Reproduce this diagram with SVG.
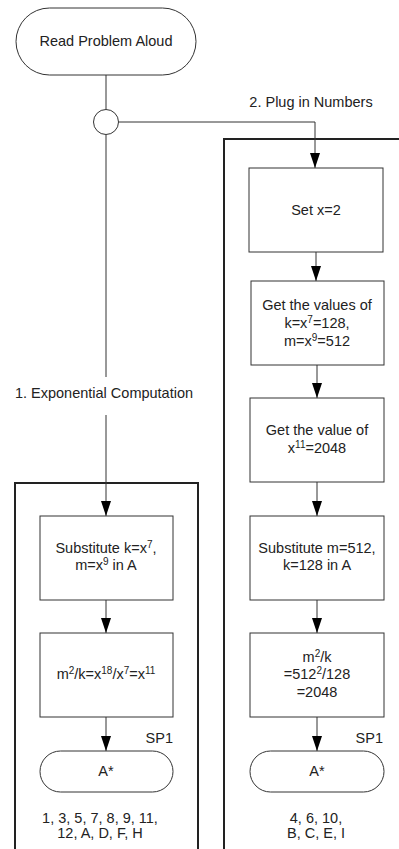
<svg xmlns="http://www.w3.org/2000/svg" width="399" height="849" viewBox="0 0 399 849">
<defs>
<marker id="arr" markerWidth="15" markerHeight="10" refX="15" refY="5" orient="auto" markerUnits="userSpaceOnUse" viewBox="0 0 15 10">
<path d="M0,0 L15,5 L0,10 Z" fill="#000"/>
</marker>
<style>
text{font-family:"Liberation Sans",Arial,sans-serif;font-size:14.5px;fill:#222;text-anchor:middle}
.box{fill:#fff;stroke:#333;stroke-width:1}
.cont{fill:none;stroke:#222;stroke-width:2}
.ln{fill:none;stroke:#333;stroke-width:1}
.sup{font-size:10px}
.r{text-anchor:end}
</style>
</defs>
<rect width="399" height="849" fill="#fff"/>
<g id="containers">
<path class="cont" d="M224,849 V139 H399"/>
<path class="cont" d="M15,849 V483 H198 V849"/>
</g>
<g id="connectors">
<line class="ln" x1="106" y1="75" x2="106" y2="109"/>
<path class="ln" d="M118.5,122 H315 V168" marker-end="url(#arr)"/>
<line class="ln" x1="106" y1="135" x2="106" y2="377"/>
<line class="ln" x1="106" y1="415" x2="106" y2="516" marker-end="url(#arr)"/>
<line class="ln" x1="316" y1="252" x2="316" y2="281" marker-end="url(#arr)"/>
<line class="ln" x1="317" y1="365" x2="317" y2="398" marker-end="url(#arr)"/>
<line class="ln" x1="317" y1="482" x2="317" y2="516" marker-end="url(#arr)"/>
<line class="ln" x1="106" y1="600" x2="106" y2="633" marker-end="url(#arr)"/>
<line class="ln" x1="317" y1="600" x2="317" y2="633" marker-end="url(#arr)"/>
<line class="ln" x1="106" y1="717" x2="106" y2="751" marker-end="url(#arr)"/>
<line class="ln" x1="317" y1="717" x2="317" y2="751" marker-end="url(#arr)"/>
</g>
<g id="labels">
<text x="311" y="107">2. Plug in Numbers</text>
<text x="104" y="398">1. Exponential Computation</text>
</g>
<g id="start">
<rect class="box" x="16" y="8" width="180" height="67" rx="33.5" ry="33.5"/>
<text x="106" y="46">Read Problem Aloud</text>
</g>
<g id="junction">
<circle class="box" cx="106" cy="122" r="12.5"/>
</g>
<g id="setx">
<rect class="box" x="249" y="168" width="134" height="84"/>
<text x="316" y="215">Set x=2</text>
</g>
<g id="getvalues">
<rect class="box" x="251" y="281" width="133" height="84"/>
<text x="317" y="310">Get the values of</text>
<text x="317" y="328">k=x<tspan class="sup" dy="-5">7</tspan><tspan dy="5">=128,</tspan></text>
<text x="317" y="346">m=x<tspan class="sup" dy="-5">9</tspan><tspan dy="5">=512</tspan></text>
</g>
<g id="getvalue11">
<rect class="box" x="250" y="398" width="134" height="84"/>
<text x="317" y="435">Get the value of</text>
<text x="317" y="453">x<tspan class="sup" dy="-5">11</tspan><tspan dy="5">=2048</tspan></text>
</g>
<g id="subst-left">
<rect class="box" x="40" y="516" width="133" height="84"/>
<text x="106" y="553">Substitute k=x<tspan class="sup" dy="-5">7</tspan><tspan dy="5">,</tspan></text>
<text x="106" y="570">m=x<tspan class="sup" dy="-5">9</tspan><tspan dy="5"> in A</tspan></text>
</g>
<g id="subst-right">
<rect class="box" x="250" y="516" width="134" height="84"/>
<text x="317" y="553">Substitute m=512,</text>
<text x="317" y="570">k=128 in A</text>
</g>
<g id="calc-left">
<rect class="box" x="40" y="633" width="133" height="84"/>
<text x="106" y="679">m<tspan class="sup" dy="-5">2</tspan><tspan dy="5">/k=x</tspan><tspan class="sup" dy="-5">18</tspan><tspan dy="5">/x</tspan><tspan class="sup" dy="-5">7</tspan><tspan dy="5">=x</tspan><tspan class="sup" dy="-5">11</tspan></text>
</g>
<g id="calc-right">
<rect class="box" x="250" y="633" width="134" height="84"/>
<text x="317" y="662">m<tspan class="sup" dy="-5">2</tspan><tspan dy="5">/k</tspan></text>
<text x="317" y="679">=512<tspan class="sup" dy="-5">2</tspan><tspan dy="5">/128</tspan></text>
<text x="317" y="697">=2048</text>
</g>
<g id="end-left">
<text class="r" x="173" y="743">SP1</text>
<rect class="box" x="40" y="751" width="133" height="41" rx="20.5" ry="20.5"/>
<text x="106" y="776">A*</text>
<text x="100" y="823">1, 3, 5, 7, 8, 9, 11,</text>
<text x="100" y="838">12, A, D, F, H</text>
</g>
<g id="end-right">
<text class="r" x="383" y="743">SP1</text>
<rect class="box" x="250" y="751" width="134" height="41" rx="20.5" ry="20.5"/>
<text x="317" y="776">A*</text>
<text x="316" y="823">4, 6, 10,</text>
<text x="316" y="838">B, C, E, I</text>
</g>
</svg>
